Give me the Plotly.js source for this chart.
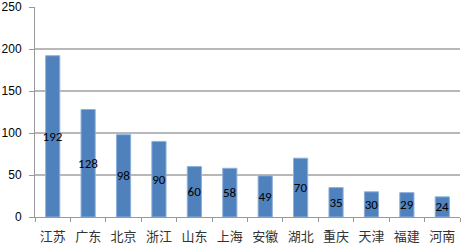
<!DOCTYPE html>
<html><head><meta charset="utf-8">
<script src="https://cdn.plot.ly/plotly-3.0.1.min.js"></script>
<style>html,body{margin:0;padding:0;background:#fff}#c{width:463px;height:244px}</style>
</head><body><div id="c"></div>
<script>
const categories = ["江苏","广东","北京","浙江","山东","上海","安徽","湖北","重庆","天津","福建","河南"];
const values = [192,128,98,90,60,58,49,70,35,30,29,24];
const yTicks = [0,50,100,150,200,250];

Plotly.newPlot('c', [{
  type: 'bar',
  x: categories,
  y: values,
  text: values.map(String),
  textposition: 'inside',
  insidetextanchor: 'middle',
  constraintext: 'none',
  textangle: 0,
  textfont: {family: 'Carlito, "Liberation Sans", Arial, sans-serif', size: 13, color: '#000'},
  marker: {color: '#4F81BD', line: {color: '#8DB0DC', width: 1}},
  hoverinfo: 'none'
}], {
  width: 463, height: 244,
  margin: {l: 35, r: 3, t: 7, b: 27},
  paper_bgcolor: '#fff', plot_bgcolor: '#fff',
  bargap: 0.6,
  showlegend: false,
  xaxis: {
    type: 'category',
    tickfont: {family: '"Noto Sans CJK SC", sans-serif', size: 13, color: '#333'},
    ticks: 'outside', ticklen: 4, tickcolor: '#999', tickson: 'boundaries',
    ticklabelstandoff: 7,
    showline: true, linecolor: '#999', linewidth: 1,
    showgrid: false, zeroline: false, fixedrange: true
  },
  yaxis: {
    range: [0, 250],
    tickvals: yTicks,
    tickfont: {family: '"Liberation Sans", Arial, sans-serif', size: 12, color: '#000'},
    ticks: 'outside', ticklen: 5, tickcolor: '#999',
    ticklabelstandoff: 5,
    showline: true, linecolor: '#999', linewidth: 1,
    showgrid: true, gridcolor: '#B8B8B8', gridwidth: 1.5,
    zeroline: false, fixedrange: true
  }
}, {staticPlot: true});
</script></body></html>
